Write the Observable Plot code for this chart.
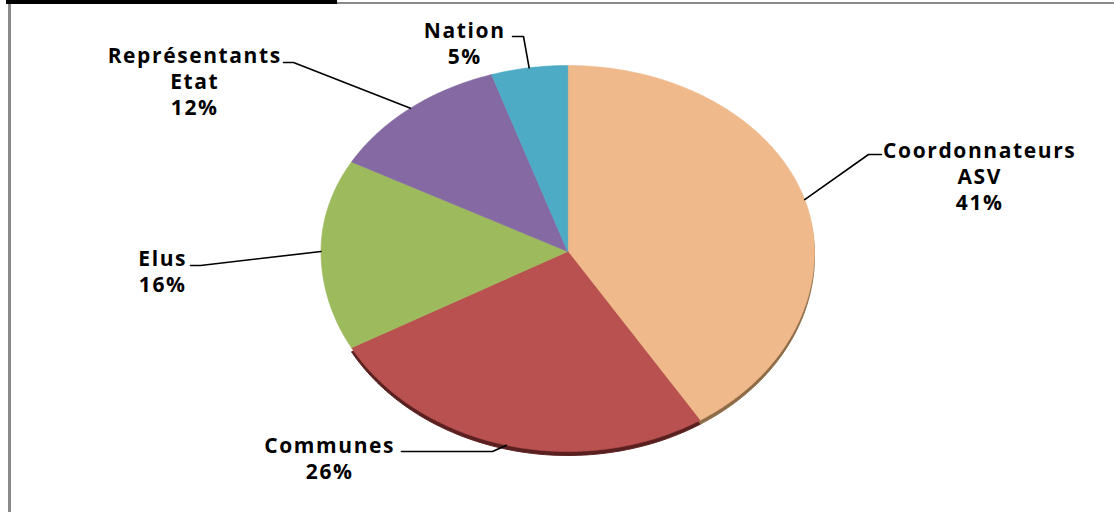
<!DOCTYPE html>
<html><head><meta charset="utf-8">
<script src="https://cdn.jsdelivr.net/npm/d3@7"></script>
<script src="https://cdn.jsdelivr.net/npm/@observablehq/plot@0.6"></script>
<style>
body{margin:0;background:#fff;}
#wrap{position:relative;width:1114px;height:512px;overflow:hidden;background:#fff;}
#frame{position:absolute;left:8px;top:2px;right:-10px;bottom:-10px;border-left:3px solid #8a8a8a;border-top:2px solid #8a8a8a;}
#bar{position:absolute;left:6px;top:0;width:331px;height:4px;background:#000;}
#chart{position:absolute;left:0;top:0;}
</style></head><body>
<div id="wrap"><div id="frame"></div><div id="bar"></div><div id="chart"></div></div>
<script>
// ---- data ----
const categories = ["Coordonnateurs ASV", "Communes", "Elus", "Représentants Etat", "Nation"];
const labelLines = [["Coordonnateurs", "ASV"], ["Communes"], ["Elus"], ["Représentants", "Etat"], ["Nation"]];
const values = [41, 26, 16, 12, 5];
const percentLabels = ["41%", "26%", "16%", "12%", "5%"];

// ---- style / layout ----
const colors = ["#EFB98B", "#B8514F", "#9DBA5D", "#8469A3", "#4DABC5"];
const rimColors = {"Coordonnateurs ASV": "#8d6b47", "Communes": "#5a2020"};
const cx = 567.25, rx = 246.75, cy = 251, ryTop = 186, ryBottom = 200;
// label layout in pixels: text centre x, last-line baseline y, elbow and end of the leader line
const labelLayout = [
  {tx: 980, ty: 209, elbow: [868, 154], end: [881, 154]},
  {tx: 330, ty: 478, elbow: [492, 451], end: [401, 451]},
  {tx: 163, ty: 291, elbow: [200, 265], end: [190, 265]},
  {tx: 195, ty: 114, elbow: [293, 62], end: [283, 62]},
  {tx: 465, ty: 63, elbow: [523, 36], end: [512, 36]}
];
const ux = px => (px - cx) / rx;
const uy = py => (cy - py) / ryTop;

// ---- geometry from values ----
const total = d3.sum(values);
const pt = a => {
  const c = Math.cos(a);
  return [Math.sin(a), c > 0 ? c : c * ryBottom / ryTop];
};
const slices = [];
const polys = [];
let acc = 0;
categories.forEach((cat, i) => {
  const a0 = acc / total * 2 * Math.PI;
  acc += values[i];
  const a1 = acc / total * 2 * Math.PI;
  slices.push({cat, a0, a1, mid: (a0 + a1) / 2});
  polys.push({cat, x: 0, y: 0});
  const n = Math.max(4, Math.ceil((a1 - a0) / (Math.PI / 360)));
  for (let k = 0; k <= n; k++) {
    const [x, y] = pt(a0 + (a1 - a0) * k / n);
    polys.push({cat, x, y});
  }
  polys.push({cat, x: 0, y: 0});
});

const leaders = [];
const texts = [];
slices.forEach((s, i) => {
  const L = labelLayout[i];
  const [ex, ey] = pt(s.mid);
  leaders.push({cat: s.cat, x: ex, y: ey});
  leaders.push({cat: s.cat, x: ux(L.elbow[0]), y: uy(L.elbow[1])});
  leaders.push({cat: s.cat, x: ux(L.end[0]), y: uy(L.end[1])});
  texts.push({cat: s.cat, x: ux(L.tx), y: uy(L.ty), text: [...labelLines[i], percentLabels[i]].join("\n")});
});

const fontSize = 21;
const marks = [];
for (const c of Object.keys(rimColors)) {
  marks.push(Plot.line(polys.filter(d => d.cat === c), {x: "x", y: "y", fill: rimColors[c], stroke: rimColors[c], strokeWidth: 1, dy: 4}));
}
marks.push(Plot.line(polys, {x: "x", y: "y", z: "cat", fill: "cat", stroke: "cat", strokeWidth: 0.6}));
marks.push(Plot.line(leaders, {x: "x", y: "y", z: "cat", stroke: "#000", strokeWidth: 1.6}));
marks.push(Plot.text(texts, {x: "x", y: "y", text: "text", textAnchor: "middle", lineAnchor: "bottom", lineHeight: 26 / fontSize, fill: "#000", fontWeight: "bold", fontSize, dx: -0.8}));

const chart = Plot.plot({
  width: 1114, height: 512,
  marginTop: 0, marginRight: 0, marginBottom: 0, marginLeft: 0,
  x: {domain: [-1, 1], range: [cx - rx, cx + rx], axis: null},
  y: {domain: [-ryBottom / ryTop, 1], range: [cy + ryBottom, cy - ryTop], axis: null},
  color: {domain: categories, range: colors},
  style: {fontFamily: "'Open Sans', sans-serif", background: "transparent", overflow: "visible", letterSpacing: "1.6px"},
  marks
});
document.getElementById("chart").appendChild(chart);
</script>
</body></html>
